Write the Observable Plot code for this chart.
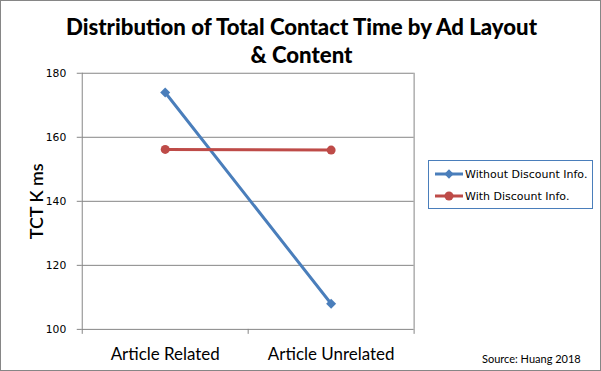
<!DOCTYPE html>
<html>
<head>
<meta charset="utf-8">
<script src="https://cdn.jsdelivr.net/npm/d3@7"></script>
<script src="https://cdn.jsdelivr.net/npm/@observablehq/plot@0.6"></script>
<style>
  html, body { margin: 0; padding: 0; background: #fff; }
  #chart { position: relative; width: 601px; height: 371px; box-sizing: border-box; border: 1px solid #868686; overflow: hidden; }
  #chart svg.plot { position: absolute; left: -1px; top: -1px; }
  .title { position: absolute; left: 0; width: 601px; text-align: center; font-family: Lato, sans-serif; font-weight: 900; font-size: 22.2px; color: #000; white-space: nowrap; }
  .legend { position: absolute; left: 427px; top: 159px; width: 163px; height: 47px; border: 1px solid #4a7ebb; background: #fff; }
  .legend .row { position: absolute; left: 6px; height: 16px; display: flex; align-items: center; font-family: "DejaVu Sans", sans-serif; font-size: 11px; color: #000; white-space: nowrap; }
  .source { position: absolute; left: 481px; top: 351px; font-family: Lato, sans-serif; font-size: 11px; color: #000; }
</style>
</head>
<body>
<div id="chart"></div>
<script>
const categories = ["Article Related", "Article Unrelated"];
const seriesNames = ["Without Discount Info.", "With Discount Info."];
const withoutDiscount = [174.0, 108.0];
const withDiscount = [156.2, 156.0];
const yTicks = [100, 120, 140, 160, 180];
const seriesColors = ["#4a7ebb", "#be4b48"];
const titleLines = ["Distribution of Total Contact Time by Ad Layout", "& Content"];
const yLabel = "TCT K ms";
const sourceText = "Source: Huang 2018";

const rows = [];
categories.forEach((c, i) => {
  rows.push({cat: c, pos: i + 0.5, series: seriesNames[0], value: withoutDiscount[i]});
  rows.push({cat: c, pos: i + 0.5, series: seriesNames[1], value: withDiscount[i]});
});
const rowsA = rows.filter(d => d.series === seriesNames[0]);
const rowsB = rows.filter(d => d.series === seriesNames[1]);
const grid = "#868686";

const plot = Plot.plot({
  width: 601,
  height: 371,
  marginLeft: 82,
  marginRight: 186,
  marginTop: 73,
  marginBottom: 41,
  x: {type: "linear", domain: [0, categories.length], axis: null},
  y: {domain: [100, 180], axis: null},
  color: {domain: seriesNames, range: seriesColors},
  marks: [
    Plot.ruleY(yTicks.slice(1), {stroke: grid, strokeWidth: 1}),
    Plot.ruleX([categories.length], {stroke: grid}),
    Plot.ruleX([0], {stroke: grid}),
    Plot.ruleY([100], {stroke: grid}),
    Plot.ruleY(yTicks, {x1: 0, x2: 0, insetLeft: -5, stroke: grid}),
    Plot.ruleX(d3.range(categories.length + 1), {y1: 100, y2: 100, insetBottom: -5, stroke: grid}),
    Plot.text(yTicks, {x: 0, y: d => d, text: d => String(d), dx: -16, textAnchor: "end", fontFamily: "DejaVu Sans", fontSize: 10.8, fill: "#000"}),
    Plot.text(categories, {x: (d, i) => i + 0.5, y: 100, text: d => d, dy: 25, fontFamily: "Lato", fontSize: 17, fill: "#000"}),
    Plot.text([yLabel], {frameAnchor: "left", textAnchor: "middle", text: d => d, dx: -45, rotate: -90, fontFamily: "Lato", fontWeight: 600, fontSize: 18, fill: "#000"}),
    Plot.line(rows, {x: "pos", y: "value", z: "series", stroke: "series", strokeWidth: 3}),
    Plot.dot(rowsA, {x: "pos", y: "value", symbol: "square", rotate: 45, r: 4, fill: seriesColors[0], stroke: "none"}),
    Plot.dot(rowsB, {x: "pos", y: "value", r: 4.5, fill: seriesColors[1], stroke: "none"})
  ]
});
plot.classList.add("plot");
const chart = document.getElementById("chart");
chart.appendChild(plot);

titleLines.forEach((t, i) => {
  const d = document.createElement("div");
  d.className = "title";
  d.style.top = (12 + i * 28) + "px";
  d.textContent = t;
  chart.appendChild(d);
});

const legend = document.createElement("div");
legend.className = "legend";
seriesNames.forEach((s, i) => {
  const r = document.createElement("div");
  r.className = "row";
  r.style.top = (5 + i * 22) + "px";
  const sw = d3.create("svg").attr("width", 30).attr("height", 12).style("margin-right", "0px");
  sw.append("line").attr("x1", 0).attr("x2", 28).attr("y1", 6).attr("y2", 6).attr("stroke", seriesColors[i]).attr("stroke-width", 3);
  if (i === 0) {
    sw.append("rect").attr("x", -3.3).attr("y", -3.3).attr("width", 6.6).attr("height", 6.6).attr("fill", seriesColors[i]).attr("transform", "translate(14,6) rotate(45)");
  } else {
    sw.append("circle").attr("cx", 14).attr("cy", 6).attr("r", 4.5).attr("fill", seriesColors[i]);
  }
  r.appendChild(sw.node());
  const t = document.createElement("span");
  t.textContent = s;
  r.appendChild(t);
  legend.appendChild(r);
});
chart.appendChild(legend);

const src = document.createElement("div");
src.className = "source";
src.textContent = sourceText;
chart.appendChild(src);
</script>
</body>
</html>
